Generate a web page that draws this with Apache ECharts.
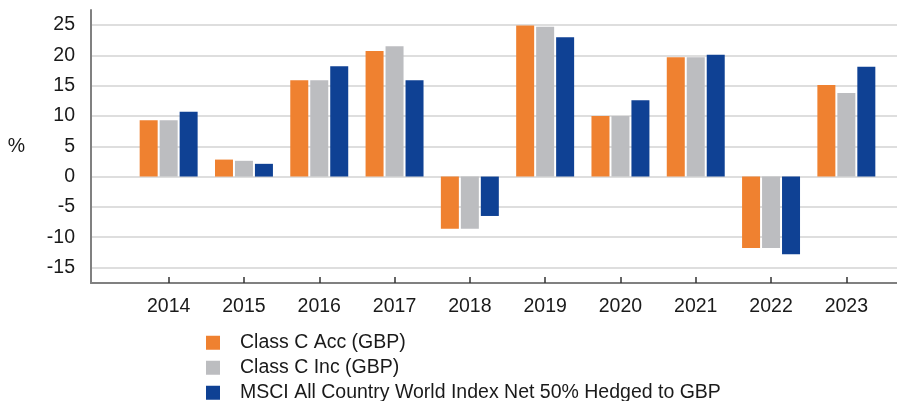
<!DOCTYPE html>
<html>
<head>
<meta charset="utf-8">
<script src="https://cdn.jsdelivr.net/npm/echarts/dist/echarts.min.js"></script>
<style>
  html, body { margin: 0; padding: 0; background: #fff; }
  #chart { width: 897px; height: 401px; }
</style>
</head>
<body>
<div id="chart"></div>
<script>
// data (annual % returns)
const years = ["2014", "2015", "2016", "2017", "2018", "2019", "2020", "2021", "2022", "2023"];
const classCAcc = [9.3, 2.8, 15.9, 20.7, -8.6, 24.9, 10.0, 19.7, -11.8, 15.1];
const classCInc = [9.3, 2.6, 15.9, 21.5, -8.6, 24.7, 10.0, 19.7, -11.8, 13.8];
const msci = [10.7, 2.1, 18.2, 15.9, -6.5, 23.0, 12.6, 20.1, -12.8, 18.1];
const seriesNames = [
  "Class C Acc (GBP)",
  "Class C Inc (GBP)",
  "MSCI All Country World Index Net 50% Hedged to GBP",
];
const yMin = -15;
const yMax = 25;
const yStep = 5;

const colors = ["#EF8130", "#BCBDC0", "#0F4194"];
const font = "Liberation Sans, Arial, sans-serif";
const fs = 19.5;
const chart = echarts.init(document.getElementById("chart"));

const option = {
  animation: false,
  color: colors,
  textStyle: { fontFamily: font },
  grid: [
    // outer frame (axis lines)
    { left: 91, right: 0, top: 10, bottom: 118 },
    // gridlines + y labels
    { left: 91, right: 0, top: 25, bottom: 133.5 },
    // bars
    { left: 131, right: 13, top: 25, bottom: 133.5 },
  ],
  legend: {
    orient: "vertical",
    left: 206,
    top: 332.75,
    height: 90,
    padding: 0,
    itemWidth: 14,
    itemHeight: 14,
    itemGap: 5,
    icon: "rect",
    textStyle: {
      fontSize: fs,
      color: "#1a1a1a",
      fontFamily: font,
      padding: [0, 0, 0, 15],
    },
    data: seriesNames,
  },
  xAxis: [
    {
      gridIndex: 0,
      type: "value",
      min: 0,
      max: 1,
      axisLine: { show: true, onZero: false, lineStyle: { color: "#808080", width: 2 } },
      axisTick: { show: false },
      axisLabel: { show: false },
      splitLine: { show: false },
    },
    { gridIndex: 1, type: "value", show: false },
    {
      gridIndex: 2,
      type: "category",
      data: years,
      offset: 15.5,
      axisLine: { show: false, onZero: false },
      axisTick: {
        show: true,
        inside: true,
        length: 6,
        alignWithLabel: true,
        lineStyle: { color: "#333", width: 1.5 },
      },
      axisLabel: { fontSize: fs, color: "#1a1a1a", margin: 14, fontFamily: font },
    },
  ],
  yAxis: [
    {
      gridIndex: 0,
      type: "value",
      min: -17.5,
      max: 27.5,
      axisLine: { show: true, onZero: false, lineStyle: { color: "#808080", width: 2 } },
      axisTick: { show: false },
      axisLabel: { show: false },
      splitLine: { show: false },
    },
    {
      gridIndex: 1,
      type: "value",
      min: yMin,
      max: yMax,
      interval: yStep,
      name: "%",
      nameLocation: "middle",
      nameRotate: 0,
      nameGap: 66,
      nameTextStyle: { fontSize: fs, color: "#1a1a1a", fontFamily: font },
      axisLine: { show: false },
      axisTick: { show: false },
      axisLabel: { fontSize: fs, color: "#1a1a1a", margin: 16, fontFamily: font },
      splitLine: { show: true, lineStyle: { color: "#d3d3d3", width: 1.5 } },
    },
    { gridIndex: 2, type: "value", min: yMin, max: yMax, show: false },
  ],
  series: [classCAcc, classCInc, msci].map((vals, i) => ({
    name: seriesNames[i],
    type: "bar",
    xAxisIndex: 2,
    yAxisIndex: 2,
    barWidth: 18,
    barGap: "11%",
    data: vals,
  })),
};

chart.setOption(option);
</script>
</body>
</html>
